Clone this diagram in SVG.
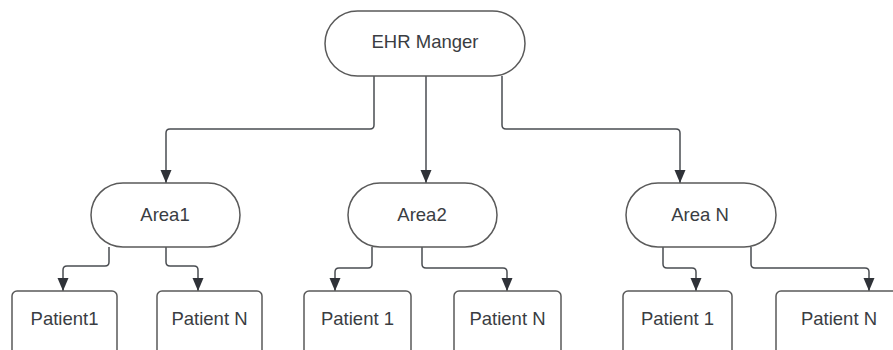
<svg xmlns="http://www.w3.org/2000/svg" width="893" height="350" viewBox="0 0 893 350">
<defs>
<marker id="arr" markerWidth="12" markerHeight="14" refX="6" refY="13" orient="0" markerUnits="userSpaceOnUse" viewBox="0 0 12 14">
<path d="M0.5 0 L11.5 0 L6 13 Z" fill="#2f3238"/>
</marker>
<style>
.node{fill:#ffffff;stroke:#5a5a5a;stroke-width:1.5}
.lbl{font-family:"Liberation Sans",Arial,sans-serif;font-size:18.5px;fill:#3a3d42;text-anchor:middle}
.con{fill:none;stroke:#4a4d52;stroke-width:1.5;marker-end:url(#arr)}
</style>
</defs>
<rect width="893" height="350" fill="#ffffff"/>
<g id="connectors">
<path class="con" d="M374 76 V125 Q374 129 370 129 H170 Q166 129 166 133 V183"/>
<path class="con" d="M426 76 V183"/>
<path class="con" d="M502 76 V125 Q502 129 506 129 H676 Q680 129 680 133 V183"/>
<path class="con" d="M109 247 V262 Q109 266 105 266 H67 Q63 266 63 270 V291"/>
<path class="con" d="M166 247 V262 Q166 266 170 266 H194 Q198 266 198 270 V291"/>
<path class="con" d="M372 247 V264 Q372 268 368 268 H339 Q335 268 335 272 V291"/>
<path class="con" d="M422 247 V264 Q422 268 426 268 H503 Q507 268 507 272 V291"/>
<path class="con" d="M663 247 V264 Q663 268 667 268 H692 Q696 268 696 272 V291"/>
<path class="con" d="M751 247 V264 Q751 268 755 268 H865 Q869 268 869 272 V291"/>
</g>
<g id="ehr">
<rect class="node" x="325" y="11" width="200" height="65" rx="32.5"/>
<text class="lbl" x="425" y="48">EHR Manger</text>
</g>
<g id="area1">
<rect class="node" x="91" y="183" width="149" height="64" rx="32"/>
<text class="lbl" x="165" y="221">Area1</text>
</g>
<g id="area2">
<rect class="node" x="348" y="183" width="149" height="64" rx="32"/>
<text class="lbl" x="422" y="221">Area2</text>
</g>
<g id="areaN">
<rect class="node" x="626" y="183" width="150" height="64" rx="32"/>
<text class="lbl" x="700" y="221">Area N</text>
</g>
<g id="a1p1">
<rect class="node" x="12" y="291" width="105" height="80" rx="5"/>
<text class="lbl" x="64.5" y="325">Patient1</text>
</g>
<g id="a1pN">
<rect class="node" x="157" y="291" width="105" height="80" rx="5"/>
<text class="lbl" x="209.5" y="325">Patient N</text>
</g>
<g id="a2p1">
<rect class="node" x="304" y="291" width="107" height="80" rx="5"/>
<text class="lbl" x="357.5" y="325">Patient 1</text>
</g>
<g id="a2pN">
<rect class="node" x="454" y="291" width="107" height="80" rx="5"/>
<text class="lbl" x="507.5" y="325">Patient N</text>
</g>
<g id="aNp1">
<rect class="node" x="623" y="291" width="109" height="80" rx="5"/>
<text class="lbl" x="677.5" y="325">Patient 1</text>
</g>
<g id="aNpN">
<rect class="node" x="776" y="291" width="126" height="80" rx="5"/>
<text class="lbl" x="839" y="325">Patient N</text>
</g>
</svg>
